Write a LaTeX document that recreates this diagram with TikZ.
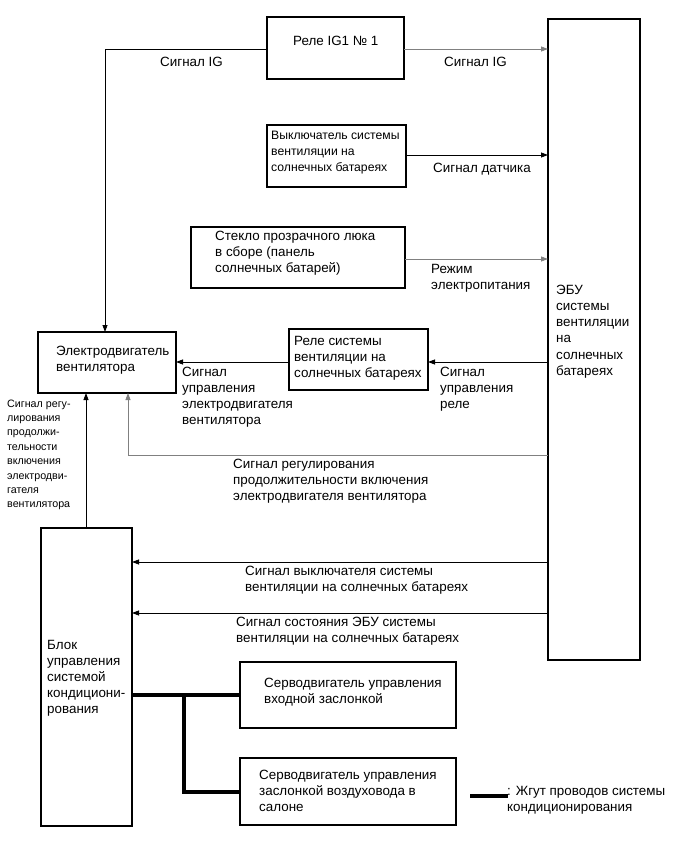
\documentclass[tikz,border=0pt]{standalone}
\usepackage{fontspec}
\setmainfont{Liberation Sans}
\usetikzlibrary{arrows.meta}
\begin{document}
\begin{tikzpicture}[x=1pt,y=-1pt,
  box/.style={draw, line width=1.1pt, inner sep=0pt, outer sep=0pt, anchor=north west},
  lbl/.style={anchor=north west, inner sep=0pt, align=left, font=\fontsize{13.4}{16.2}\selectfont, execute at begin node=\strut},
  lblsm/.style={lbl, font=\fontsize{12.2}{16.2}\selectfont},
  small/.style={anchor=north west, inner sep=0pt, align=left, font=\fontsize{10.7}{14.4}\selectfont, execute at begin node=\strut},
  wire/.style={line width=0.8pt},
  gwire/.style={line width=0.8pt, draw=black!50},
  arr/.style={-{Triangle[length=7pt,width=5pt]}},
  harness/.style={line width=4pt}]
\useasboundingbox (0,0) rectangle (691,854);
% boxes
\node[box, minimum width=137pt, minimum height=62pt] (ig) at (267,17) {};
\node[box, minimum width=92pt, minimum height=641pt] (ecu) at (548,19) {};
\node[box, minimum width=139pt, minimum height=62pt] (sw) at (267,125) {};
\node[box, minimum width=214pt, minimum height=61pt] (glass) at (191,227) {};
\node[box, minimum width=138pt, minimum height=61pt] (fan) at (38,332) {};
\node[box, minimum width=139pt, minimum height=61pt] (vrelay) at (289,329) {};
\node[box, minimum width=91pt, minimum height=298pt] (ac) at (41,528) {};
\node[box, minimum width=216pt, minimum height=66pt] (servo1) at (240,662) {};
\node[box, minimum width=216pt, minimum height=67pt] (servo2) at (240,758) {};
% box texts
\node[lbl] (tig) at (293,33.7) {Реле IG1 № 1};
\node[lblsm] (tsw) at (271,130.7) {Выключатель системы\\вентиляции на\\солнечных батареях};
\node[lbl] (tglass) at (215,230.7) {Стекло прозрачного люка\\в сборе (панель\\солнечных батарей)};
\node[lbl] (tecu) at (556,284.7) {ЭБУ\\системы\\вентиляции\\на\\солнечных\\батареях};
\node[lbl] (tfan) at (56,345.7) {Электродвигатель\\вентилятора};
\node[lbl] (tvrelay) at (294,335.7) {Реле системы\\вентиляции на\\солнечных батареях};
\node[lbl] (tac) at (47,639.7) {Блок\\управления\\системой\\кондициони-\\рования};
\node[lbl] (tservo1) at (264,677.7) {Серводвигатель управления\\входной заслонкой};
\node[lbl] (tservo2) at (259,769.7) {Серводвигатель управления\\заслонкой воздуховода в\\салоне};
% connector labels
\node[lbl] (l1) at (160,54.7) {Сигнал IG};
\node[lbl] (l2) at (444,54.7) {Сигнал IG};
\node[lbl] (l3) at (433,160.7) {Сигнал датчика};
\node[lbl] (l4) at (431,263.7) {Режим\\электропитания};
\node[lbl] (l5) at (440,366.7) {Сигнал\\управления\\реле};
\node[lbl] (l6) at (182,366.7) {Сигнал\\управления\\электродвигателя\\вентилятора};
\node[lbl] (l7) at (233,458.7) {Сигнал регулирования\\продолжительности включения\\электродвигателя вентилятора};
\node[small] (l8) at (7,399.5) {Сигнал регу-\\лирования\\продолжи-\\тельности\\включения\\электродви-\\гателя\\вентилятора};
\node[lbl] (l9) at (245,565.7) {Сигнал выключателя системы\\вентиляции на солнечных батареях};
\node[lbl] (l10) at (236,616.7) {Сигнал состояния ЭБУ системы\\вентиляции на солнечных батареях};
\node[lbl] (leg) at (507,785.7) {: Жгут проводов системы\\кондиционирования};
% connectors
\draw[wire,arr] (ig.west |- 0,49) -| (fan.north -| 105,0);
\draw[gwire,arr] (ig.east |- 0,49) -- (ecu.west |- 0,49);
\draw[wire,arr] (sw.east |- 0,155) -- (ecu.west |- 0,155);
\draw[gwire,arr] (glass.east |- 0,259) -- (ecu.west |- 0,259);
\draw[wire,arr] (ecu.west |- 0,362) -- (vrelay.east |- 0,362);
\draw[wire,arr] (vrelay.west |- 0,362) -- (fan.east |- 0,362);
\draw[gwire,arr] (ecu.west |- 0,455) -| (fan.south -| 128,0);
\draw[wire,arr] (ac.north -| 86,0) -- (fan.south -| 86,0);
\draw[wire,arr] (ecu.west |- 0,562) -- (ac.east |- 0,562);
\draw[wire,arr] (ecu.west |- 0,613) -- (ac.east |- 0,613);
% harness
\coordinate (j) at (184,695);
\draw[harness] (ac.east |- j) -- (servo1.west |- j);
\draw[harness] (j) |- (servo2.west |- 0,792);
\coordinate (lg1) at (470,796);
\coordinate (lg2) at (508,796);
\draw[harness] (lg1) -- (lg2);
\end{tikzpicture}
\end{document}
